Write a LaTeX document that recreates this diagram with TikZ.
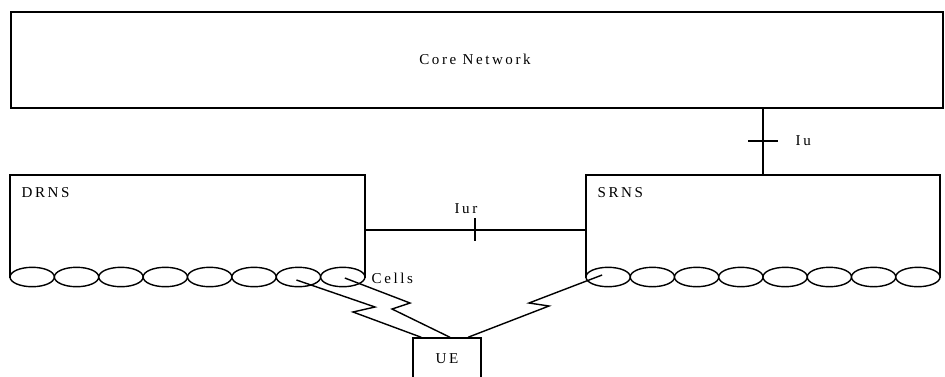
\documentclass[tikz,border=0pt]{standalone}
\usepackage{fontspec}
\setmainfont{Liberation Serif}[LetterSpace=17]
\usepackage{tikz}
\usetikzlibrary{shapes.geometric,calc}

\begin{document}
\begin{tikzpicture}[x=0.025cm,y=-0.025cm,line width=1pt,
    every node/.style={font=\fontsize{10.7}{12}\selectfont},
    box/.style={shape=rectangle,draw=black,inner sep=0pt},
    cell/.style={shape=ellipse,draw=black,fill=white,inner sep=0pt,minimum width=1.108cm,minimum height=0.485cm},
    lbl/.style={inner sep=0pt}]
    \path[use as bounding box,clip] (0,0) rectangle (945,376);

    \node[box,minimum width=23.3cm,minimum height=2.4cm] (CN) at (477,60) {};
    \node[box,minimum width=8.875cm,minimum height=2.55cm] (DRNS) at (187.5,226) {};
    \node[box,minimum width=8.85cm,minimum height=2.55cm] (SRNS) at (763,226) {};
    \node[box,minimum width=1.7cm,minimum height=1.05cm] (UE) at (447,359) {UE};

    \node[lbl,anchor=base] (cnlbl) at (475,64) {Core Network};
    \node[lbl,anchor=base west] (drnslbl) at (21,197) {DRNS};
    \node[lbl,anchor=base west] (srnslbl) at (597,197) {SRNS};
    \node[lbl,anchor=base west] (cellslbl) at (371,283) {Cells};

    % cells along the bottom of both RNS boxes
    \foreach \i in {1,...,8} {
        \node[cell] (d\i) at ({10+44.375*(\i-0.5)},277) {};
        \node[cell] (s\i) at ({586+44.25*(\i-0.5)},277) {};
    }

    % Iu
    \coordinate (iu) at (763,141);
    \path (CN.south -| iu) edge (SRNS.north -| iu);
    \draw ($(iu)+(-15,0)$) -- ($(iu)+(15,0)$);
    \node[lbl,anchor=base west] (iulbl) at (795,145) {Iu};

    % Iur
    \coordinate (iur) at (475,230);
    \path (DRNS.east |- iur) edge (SRNS.west |- iur);
    \draw ($(iur)+(0,-12)$) -- ($(iur)+(0,11)$);
    \node[lbl,anchor=base] (iurlbl) at (466,213) {Iur};

    % radio links
    \draw ($(d7)+(-2,3)$) -- (375,307) -- (353,312) -- ($(UE.north west)+(9,0)$);
    \draw ($(d8)+(2,1)$) -- (410,303) -- (392,309) -- ($(UE.north)+(3,0)$);
    \draw ($(s1)+(-6,-2)$) -- (529,303) -- (549,306) -- ($(UE.north)+(21,0)$);
\end{tikzpicture}
\end{document}
